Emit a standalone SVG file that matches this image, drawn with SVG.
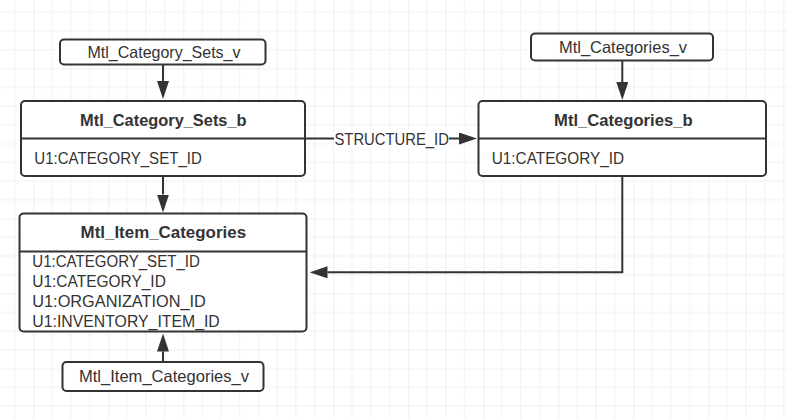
<svg xmlns="http://www.w3.org/2000/svg" width="788" height="419" viewBox="0 0 788 419">
<style>
.box{fill:#fff;stroke:#333;stroke-width:2}
.div{stroke:#333;stroke-width:2}
.t{font-family:"Liberation Sans",Arial,sans-serif;font-size:16.5px;fill:#333}
.b{font-family:"Liberation Sans",Arial,sans-serif;font-size:16.5px;font-weight:bold;fill:#333}
.f{font-family:"Liberation Sans",Arial,sans-serif;font-size:16px;fill:#333}
.e{fill:none;stroke:#333;stroke-width:2}
</style>
<defs>
<pattern id="grid" patternUnits="userSpaceOnUse" x="33.33" y="68.5" width="75" height="75">
<path d="M18.75 0V75M37.5 0V75M56.25 0V75M0 18.75H75M0 37.5H75M0 56.25H75" stroke="#f0f0f0" stroke-width="1" fill="none"/>
<path d="M0 0V75M0 0H75" stroke="#e5e5e5" stroke-width="1.2" fill="none"/>
</pattern>
<marker id="arr" markerUnits="userSpaceOnUse" markerWidth="18" markerHeight="12" refX="0" refY="6" orient="auto" viewBox="0 0 18 12">
<path d="M0 0L18 6L0 12z" fill="#333"/>
</marker>
</defs>
<rect width="788" height="419" fill="#fff"/>
<rect width="788" height="419" fill="url(#grid)"/>
<g id="connectors">
<path class="e" d="M163 64.5V81" marker-end="url(#arr)"/>
<path class="e" d="M163 176V194.5" marker-end="url(#arr)"/>
<path class="e" d="M163 362V351.5" marker-end="url(#arr)"/>
<path class="e" d="M622.3 60.5V82" marker-end="url(#arr)"/>
<path class="e" d="M305 138.5H459" marker-end="url(#arr)"/>
<path class="e" d="M622.3 176V272.3H327.5" marker-end="url(#arr)"/>
<rect x="334" y="129" width="115" height="19" fill="#fff"/>
<text class="t" x="391.7" y="145" text-anchor="middle" textLength="114.5" lengthAdjust="spacingAndGlyphs">STRUCTURE_ID</text>
</g>
<g id="mtl_category_sets_v">
<rect class="box" x="60" y="39.5" width="205.5" height="25" rx="4"/>
<text class="t" x="164" y="58.3" text-anchor="middle" textLength="153" lengthAdjust="spacingAndGlyphs">Mtl_Category_Sets_v</text>
</g>
<g id="mtl_category_sets_b">
<rect class="box" x="21" y="101" width="284" height="75" rx="4"/>
<line class="div" x1="21" y1="138.5" x2="305" y2="138.5"/>
<text class="b" x="163.3" y="126" text-anchor="middle" textLength="166.5" lengthAdjust="spacingAndGlyphs">Mtl_Category_Sets_b</text>
<text class="f" x="34.3" y="164.3" textLength="167.5" lengthAdjust="spacingAndGlyphs">U1:CATEGORY_SET_ID</text>
</g>
<g id="mtl_categories_v">
<rect class="box" x="531" y="33.5" width="182" height="27" rx="4"/>
<text class="t" x="623" y="53.3" text-anchor="middle" textLength="128" lengthAdjust="spacingAndGlyphs">Mtl_Categories_v</text>
</g>
<g id="mtl_categories_b">
<rect class="box" x="478.5" y="101" width="287.5" height="75" rx="4"/>
<line class="div" x1="478.5" y1="138.5" x2="766" y2="138.5"/>
<text class="b" x="623.3" y="126" text-anchor="middle" textLength="138.5" lengthAdjust="spacingAndGlyphs">Mtl_Categories_b</text>
<text class="f" x="491.7" y="164" textLength="132.5" lengthAdjust="spacingAndGlyphs">U1:CATEGORY_ID</text>
</g>
<g id="mtl_item_categories">
<rect class="box" x="19.5" y="213.5" width="287" height="118" rx="4"/>
<line class="div" x1="19.5" y1="251.5" x2="306.5" y2="251.5"/>
<text class="b" x="163.3" y="237.7" text-anchor="middle" textLength="165.5" lengthAdjust="spacingAndGlyphs">Mtl_Item_Categories</text>
<text class="f" x="32.3" y="266.7" textLength="167.5" lengthAdjust="spacingAndGlyphs">U1:CATEGORY_SET_ID</text>
<text class="f" x="32.3" y="286.7" textLength="133.5" lengthAdjust="spacingAndGlyphs">U1:CATEGORY_ID</text>
<text class="f" x="32.3" y="306.7" textLength="173.5" lengthAdjust="spacingAndGlyphs">U1:ORGANIZATION_ID</text>
<text class="f" x="32.3" y="326.7" textLength="187.5" lengthAdjust="spacingAndGlyphs">U1:INVENTORY_ITEM_ID</text>
</g>
<g id="mtl_item_categories_v">
<rect class="box" x="62.5" y="362" width="201" height="29" rx="4"/>
<text class="t" x="164" y="381.7" text-anchor="middle" textLength="170" lengthAdjust="spacingAndGlyphs">Mtl_Item_Categories_v</text>
</g>
</svg>
